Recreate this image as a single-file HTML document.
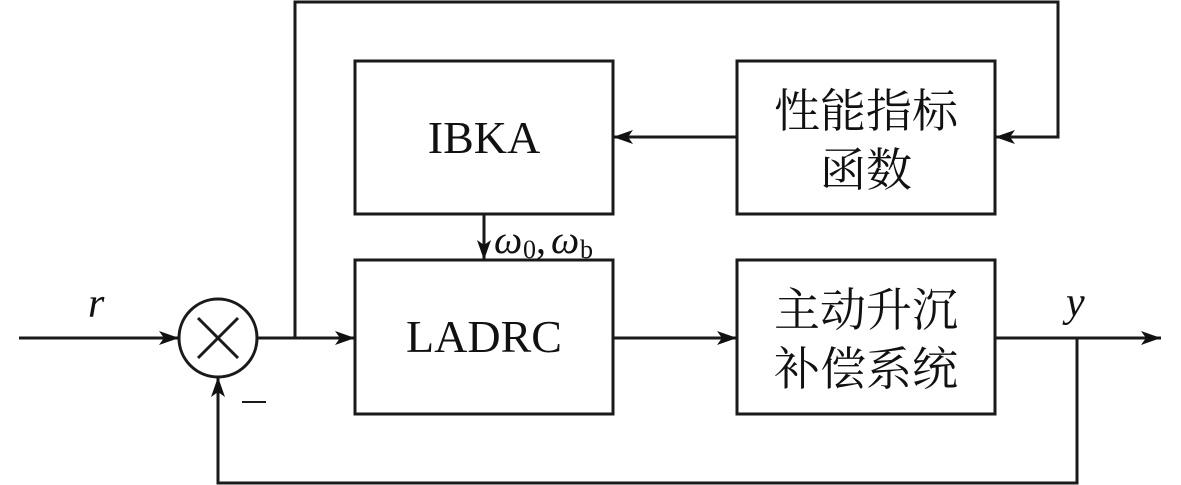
<!DOCTYPE html>
<html><head><meta charset="utf-8"><style>
html,body{margin:0;padding:0;background:#fff;}
svg{display:block}
.cn{font-family:"Liberation Serif","Noto Serif CJK SC",serif;font-size:46px;fill:#111;}
.en{font-family:"Liberation Serif",serif;fill:#111;}
</style></head><body>
<svg width="1181" height="485" viewBox="0 0 1181 485" xmlns="http://www.w3.org/2000/svg">
<defs>
<marker id="a" viewBox="0 0 20 14" refX="20" refY="7" markerWidth="20" markerHeight="14" markerUnits="userSpaceOnUse" orient="auto">
<path d="M0,0 L20,7 L0,14 L5,7 Z" fill="#111"/>
</marker>
</defs>
<g stroke="#1a1a1a" stroke-width="3" fill="none">
<rect x="355" y="61" width="258" height="153"/>
<rect x="737" y="61" width="258" height="153"/>
<rect x="355" y="260" width="258" height="154"/>
<rect x="737" y="260" width="258" height="154"/>
<circle cx="218" cy="338" r="39"/>
<line x1="198" y1="318" x2="238" y2="358"/>
<line x1="238" y1="318" x2="198" y2="358"/>
<line x1="19" y1="338" x2="179" y2="338" marker-end="url(#a)"/>
<line x1="257" y1="338" x2="355" y2="338" marker-end="url(#a)"/>
<line x1="613" y1="338" x2="737" y2="338" marker-end="url(#a)"/>
<line x1="995" y1="338" x2="1161" y2="338" marker-end="url(#a)"/>
<polyline points="295,338 295,2 1058,2 1058,137 995,137" marker-end="url(#a)"/>
<line x1="737" y1="137" x2="613" y2="137" marker-end="url(#a)"/>
<line x1="484" y1="214" x2="484" y2="260" marker-end="url(#a)"/>
<polyline points="1077,338 1077,483 218,483 218,377" marker-end="url(#a)"/>
<line x1="242" y1="402" x2="266" y2="402" stroke-width="2"/>
</g>
<text class="en" x="484" y="153" font-size="46" text-anchor="middle">IBKA</text>
<text class="en" x="484" y="352" font-size="46" text-anchor="middle">LADRC</text>
<text class="cn" x="866" y="127" text-anchor="middle">性能指标</text>
<text class="cn" x="866" y="186" text-anchor="middle">函数</text>
<text class="cn" x="866" y="326" text-anchor="middle">主动升沉</text>
<text class="cn" x="866" y="385" text-anchor="middle">补偿系统</text>
<text class="en" x="88" y="317" font-size="42" font-style="italic">r</text>
<text class="en" x="1066" y="316" font-size="42" font-style="italic">y</text>
<text class="en" x="494" y="253" font-size="40" font-style="italic">ω</text>
<text class="en" x="523" y="258" font-size="26">0</text>
<text class="en" x="536" y="253" font-size="40">,</text>
<text class="en" x="551" y="253" font-size="40" font-style="italic">ω</text>
<text class="en" x="580" y="258" font-size="26">b</text>
</svg>
</body></html>
